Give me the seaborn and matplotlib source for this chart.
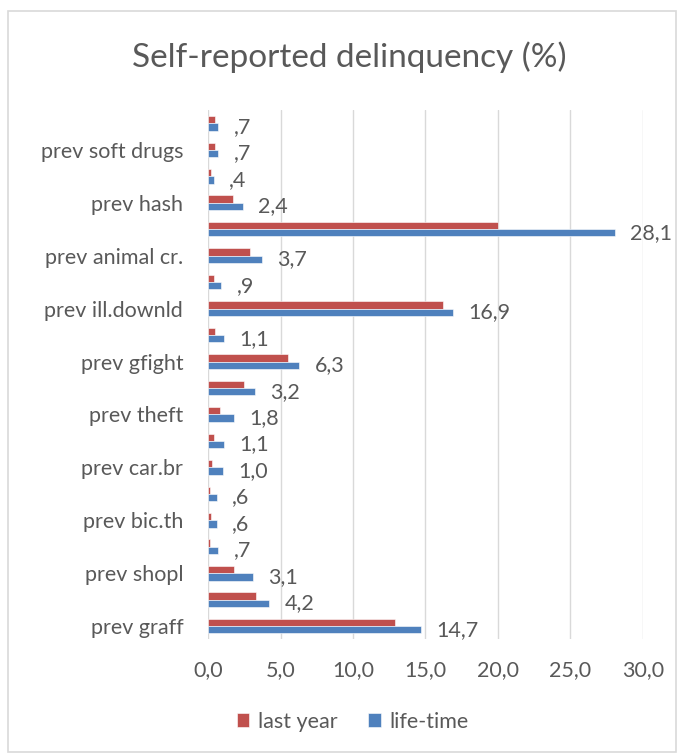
import matplotlib
matplotlib.use("Agg")
import matplotlib.pyplot as plt
import seaborn as sns
import pandas as pd
from matplotlib.patches import Rectangle

# categories bottom-to-top (as in the source chart)
categories = ["prev graff", "cat 2", "prev shopl", "cat 4", "prev bic.th", "cat 6",
              "prev car.br", "cat 8", "prev theft", "cat 10", "prev gfight", "cat 12",
              "prev ill.downld", "cat 14", "prev animal cr.", "cat 16", "prev hash",
              "cat 18", "prev soft drugs", "cat 20"]
tick_labels = ["prev graff", "", "prev shopl", "", "prev bic.th", "",
               "prev car.br", "", "prev theft", "", "prev gfight", "",
               "prev ill.downld", "", "prev animal cr.", "", "prev hash",
               "", "prev soft drugs", ""]
last_year = [12.9, 3.3, 1.8, 0.1, 0.2, 0.1, 0.3, 0.4, 0.8, 2.5,
             5.5, 0.5, 16.2, 0.4, 2.9, 20.0, 1.7, 0.2, 0.5, 0.5]
life_time = [14.7, 4.2, 3.1, 0.7, 0.6, 0.6, 1.0, 1.1, 1.8, 3.2,
             6.3, 1.1, 16.9, 0.9, 3.7, 28.1, 2.4, 0.4, 0.7, 0.7]
series = ["last year", "life-time"]
colors = ["#C0504D", "#4F81BD"]
x_ticks = [0, 5, 10, 15, 20, 25, 30]

df = pd.DataFrame({
    "category": categories * 2,
    "value": last_year + life_time,
    "series": [series[0]] * len(categories) + [series[1]] * len(categories),
})

sns.set_theme(style="white")
plt.rcParams["font.family"] = ["Lato", "DejaVu Sans"]
text_color = "#595959"
fs = 15.5

fig = plt.figure(figsize=(6.78, 7.54), dpi=100)
ax = fig.add_axes([0.307, 0.152, 0.641, 0.702])

order = categories[::-1]  # top first
sns.barplot(data=df, y="category", x="value", hue="series", order=order,
            hue_order=series, palette=colors, orient="h", width=0.55,
            saturation=1, edgecolor="white", linewidth=0.4, ax=ax, legend=True)

# data labels for life-time series
def fmt(v):
    s = f"{v:.1f}".replace(".", ",")
    if s.startswith("0,"):
        s = s[1:]
    return s

cont = ax.containers[1]
ax.bar_label(cont, labels=[fmt(life_time[categories.index(c)]) for c in order],
             padding=11, fontsize=fs, color=text_color)
for t in ax.texts:
    t.set_verticalalignment("center")

ax.set_xlim(0, 30)
ax.set_xticks(x_ticks)
ax.set_xticklabels([f"{v:.1f}".replace(".", ",") for v in x_ticks],
                   fontsize=fs, color=text_color)
ax.set_yticks(range(len(order)))
ax.set_yticklabels([tick_labels[categories.index(c)] for c in order],
                   fontsize=fs, color=text_color)
ax.tick_params(axis="x", length=0, pad=15)
ax.tick_params(axis="y", length=0, pad=18)
ax.grid(axis="x", color="#D9D9D9", linewidth=1)
ax.set_axisbelow(True)
for s in ax.spines.values():
    s.set_visible(False)
ax.set_xlabel("")
ax.set_ylabel("")

ax.legend(loc="center", bbox_to_anchor=(0.52, 0.043), bbox_transform=fig.transFigure,
          ncol=2, frameon=False, fontsize=fs, labelcolor=text_color,
          handlelength=0.6, handleheight=0.6, handletextpad=0.4, columnspacing=1.4)

fig.text(0.515, 0.924, "Self-reported delinquency (%)", ha="center", va="center",
         fontsize=24, color=text_color)

fig.patches.append(Rectangle((8 / 678, 2 / 754), 668 / 678, 741 / 754,
                             transform=fig.transFigure, fill=False,
                             edgecolor="#D9D9D9", linewidth=1.2))

fig.savefig("out.png", dpi=100)
